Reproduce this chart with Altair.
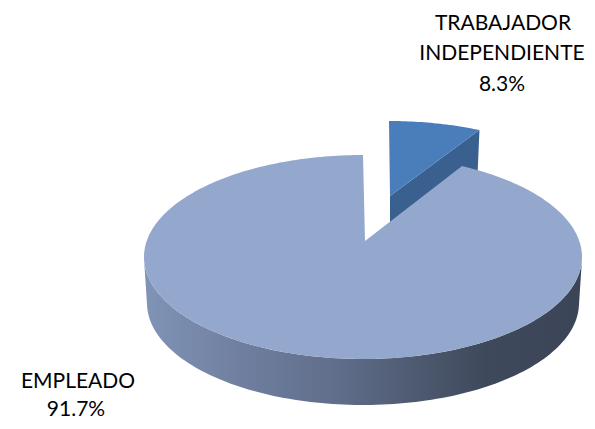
import numpy as np
import pandas as pd
import altair as alt

names = ["TRABAJADOR INDEPENDIENTE", "EMPLEADO"]
shares = [8.3, 91.7]
label_lines = [["TRABAJADOR", "INDEPENDIENTE", "8.3%"], ["EMPLEADO", "91.7%"]]
label_x = [[503, 502, 502], [78, 76]]
label_y = [[24, 54, 85], [382, 410]]

W, H = 579, 413
X = alt.X("x:Q", axis=None, scale=alt.Scale(domain=[8, 8 + W], nice=False, zero=False))
Y = alt.Y("y:Q", axis=None, scale=alt.Scale(domain=[8 + H, 8], nice=False, zero=False))

# geometry of the tilted disc
CX, CY, RX, RY, DEPTH = 363, 257, 219, 102, 46
APEX = (365, 241)
FLAT = 0.9  # the perspective compresses the far part of the disc
sweep = np.radians(360 * shares[0] / 100 * FLAT)


def ell(t, cx=CX, cy=CY, rx=RX, ry=RY):
    return cx + rx * np.sin(t), cy - ry * np.cos(t)


def poly(xs, ys, fill, stroke=None):
    df = pd.DataFrame({"x": xs, "y": ys, "i": range(len(xs))})
    kw = dict(fill=fill, interpolate="linear-closed")
    kw.update(dict(stroke=stroke, strokeWidth=1) if stroke else dict(strokeWidth=0))
    return alt.Chart(df).mark_line(**kw).encode(x=X, y=Y, order="i:Q")


# exploded slice
t_small = np.linspace(0, sweep, 30)
sx, sy = ell(t_small, cx=389, cy=205, rx=200, ry=84)
a2 = (390, 196)
small_wall = poly([a2[0], sx[-1], sx[-1] - 2, a2[0]], [a2[1], sy[-1], sy[-1] + 46, a2[1] + 46], "#39608f")
small_top = poly(np.r_[a2[0], sx], np.r_[a2[1], sy], "#4a7ebb")

# big slice wall
t_wall = np.radians(np.linspace(92, 268, 120))
ux, uy = ell(t_wall)
lx, ly = ell(t_wall[::-1], rx=RX - 3, cy=CY + DEPTH)
wall_grad = alt.LinearGradient(
    gradient="linear", x1=1, x2=0, y1=0, y2=0,
    stops=[
        alt.GradientStop(offset=0, color="#3b4557"),
        alt.GradientStop(offset=0.22, color="#3f495c"),
        alt.GradientStop(offset=0.38, color="#4e5a70"),
        alt.GradientStop(offset=0.55, color="#5f6d8a"),
        alt.GradientStop(offset=0.78, color="#707f9f"),
        alt.GradientStop(offset=1, color="#8094b6"),
    ],
)
big_wall = poly(np.r_[ux, lx], np.r_[uy, ly], wall_grad)

# big slice top
t_big = np.linspace(sweep, 2 * np.pi, 300)
bx, by = ell(t_big)
big_top = poly(np.r_[APEX[0], bx], np.r_[APEX[1], by], "#94a8ce")

# labels
rows = []
for lines, xs, ys in zip(label_lines, label_x, label_y):
    for line, xx, yy in zip(lines, xs, ys):
        rows.append({"x": xx, "y": yy, "t": line})
text = alt.Chart(pd.DataFrame(rows)).mark_text(
    font="Lato", fontSize=21, color="#000000", align="center", baseline="middle"
).encode(x=X, y=Y, text="t:N")

chart = (
    alt.layer(small_wall, small_top, big_wall, big_top, text)
    .properties(width=W, height=H, padding=0, autosize=alt.AutoSizeParams(type="none"), background="white")
    .configure_view(stroke=None)
)
chart.save("out.html", embed_options={"renderer": "svg", "actions": False})
